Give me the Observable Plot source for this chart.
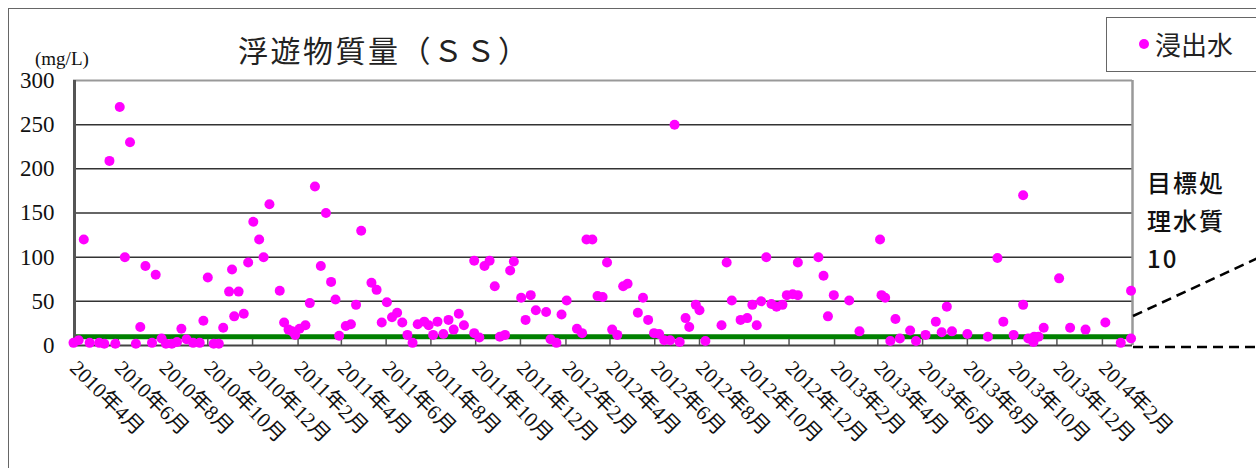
<!DOCTYPE html>
<html>
<head>
<meta charset="utf-8">
<script src="https://cdn.jsdelivr.net/npm/d3@7"></script>
<script src="https://cdn.jsdelivr.net/npm/@observablehq/plot@0.6"></script>
<style>
  html, body { margin: 0; padding: 0; background: #fff; }
  #wrap { position: relative; width: 1256px; height: 468px; overflow: hidden; background: #fff; }
  #wrap svg.plot { position: absolute; left: 0; top: 0; }
  .abs { position: absolute; white-space: nowrap; color: #111; }
  #border { position: absolute; left: 8px; top: 8px; width: 1400px; height: 600px; border-left: 1px solid #666; border-top: 1px solid #666; }
  #title { left: 238px; top: 31px; font: 400 30px "Noto Sans CJK JP", sans-serif; line-height: 36px; letter-spacing: 2.5px; color: #222; }
  #unit { left: 35px; top: 48px; font: 400 19px "Liberation Serif", serif; line-height: 22px; }
  #legend { position: absolute; left: 1106px; top: 17px; width: 200px; height: 53px; border: 1px solid #666; background: #fff; }
  #legend .dot { position: absolute; left: 32px; top: 21px; width: 10px; height: 10px; border-radius: 50%; background: #ff00ff; }
  #legend .lab { position: absolute; left: 48px; top: 8px; font: 400 26px "Noto Sans CJK JP", sans-serif; line-height: 36px; color: #222; }
  #note { left: 1147px; top: 163px; font: 500 24px "Noto Sans CJK JP", sans-serif; line-height: 38px; letter-spacing: 2px; color: #111; }
  #leader { position: absolute; left: 0; top: 0; }
</style>
</head>
<body>
<div id="wrap">
  <div id="border"></div>
</div>
<script>
// ---- data ----
const sampleDates = [
  "2010-04-01","2010-04-08","2010-04-15","2010-04-23","2010-05-06","2010-05-13","2010-05-20","2010-05-28",
  "2010-06-03","2010-06-10","2010-06-17","2010-06-25","2010-07-01","2010-07-08","2010-07-17","2010-07-22",
  "2010-07-30","2010-08-05","2010-08-13","2010-08-20","2010-08-26","2010-09-02","2010-09-11","2010-09-20",
  "2010-09-25","2010-10-01","2010-10-09","2010-10-16","2010-10-22","2010-10-30","2010-11-03","2010-11-06",
  "2010-11-12","2010-11-19","2010-11-25","2010-12-02","2010-12-10","2010-12-16","2010-12-24","2011-01-07",
  "2011-01-13","2011-01-19","2011-01-24","2011-01-28","2011-02-03","2011-02-11","2011-02-17","2011-02-24",
  "2011-03-04","2011-03-11","2011-03-18","2011-03-24","2011-03-29","2011-04-07","2011-04-14","2011-04-21",
  "2011-04-28","2011-05-12","2011-05-19","2011-05-26","2011-06-02","2011-06-09","2011-06-16","2011-06-23",
  "2011-06-30","2011-07-07","2011-07-14","2011-07-23","2011-07-29","2011-08-04","2011-08-10","2011-08-18",
  "2011-08-25","2011-09-01","2011-09-08","2011-09-15","2011-09-29","2011-09-29","2011-10-06","2011-10-13",
  "2011-10-20","2011-10-27","2011-11-03","2011-11-10","2011-11-17","2011-11-22","2011-12-02","2011-12-08",
  "2011-12-15","2011-12-22","2012-01-05","2012-01-11","2012-01-19","2012-01-26","2012-02-02","2012-02-16",
  "2012-02-23","2012-02-29","2012-03-08","2012-03-15","2012-03-22","2012-03-28","2012-04-04","2012-04-11",
  "2012-04-19","2012-04-25","2012-05-09","2012-05-16","2012-05-23","2012-05-31","2012-06-07","2012-06-14",
  "2012-06-22","2012-06-28","2012-07-05","2012-07-13","2012-07-18","2012-07-27","2012-08-01","2012-08-09",
  "2012-08-31","2012-09-07","2012-09-14","2012-09-26","2012-10-05","2012-10-12","2012-10-18","2012-10-24",
  "2012-10-31","2012-11-07","2012-11-14","2012-11-22","2012-11-28","2012-12-06","2012-12-13","2012-12-13",
  "2013-01-10","2013-01-17","2013-01-23","2013-01-31","2013-02-21","2013-03-07","2013-04-04","2013-04-06",
  "2013-04-11","2013-04-18","2013-04-25","2013-05-01","2013-05-15","2013-05-23","2013-06-05","2013-06-19",
  "2013-06-27","2013-07-04","2013-07-11","2013-08-01","2013-08-29","2013-09-11","2013-09-19","2013-10-03",
  "2013-10-16","2013-10-16","2013-10-23","2013-10-30","2013-10-31","2013-11-06","2013-11-13","2013-12-04",
  "2013-12-19","2014-01-09","2014-02-05","2014-02-26","2014-03-12","2014-03-12"
];
const ssValues = [
  3, 6, 120, 3, 3, 2, 209, 2,
  270, 100, 230, 2, 21, 90, 3, 80,
  8, 2, 2, 4, 19, 7, 3, 3,
  28, 77, 2, 2, 20, 61, 86, 33,
  61, 36, 94, 140, 120, 100, 160, 62,
  26, 18, 16, 12, 19, 23, 48, 180,
  90, 150, 72, 52, 11, 22, 24, 46,
  130, 71, 63, 26, 49, 32, 37, 26,
  12, 3, 24, 27, 23, 12, 27, 13,
  29, 18, 36, 23, 96, 14, 9, 90,
  96, 67, 10, 12, 85, 95, 54, 29,
  57, 40, 38, 7, 3, 35, 51, 19,
  14, 120, 120, 56, 55, 94, 18, 12,
  67, 70, 37, 54, 29, 14, 13, 6,
  6, 250, 4, 31, 21, 46, 40, 5,
  23, 94, 51, 29, 31, 46, 23, 50,
  100, 47, 44, 46, 57, 58, 57, 94,
  100, 79, 33, 57, 51, 16, 120, 57,
  54, 5, 30, 8, 17, 5, 12, 27,
  15, 44, 16, 13, 10, 99, 27, 12,
  170, 46, 8, 4, 10, 10, 20, 76,
  20, 18, 26, 3, 62, 8
];
const seriesName = "浸出水";
const targetValue = 10;
const targetLabel = ["目標処", "理水質", "10"];
const titleText = "浮遊物質量（ＳＳ）";
const unitText = "(mg/L)";
const yTicks = [0, 50, 100, 150, 200, 250, 300];
const xTickMonths = [
  "2010-04","2010-06","2010-08","2010-10","2010-12",
  "2011-02","2011-04","2011-06","2011-08","2011-10","2011-12",
  "2012-02","2012-04","2012-06","2012-08","2012-10","2012-12",
  "2013-02","2013-04","2013-06","2013-08","2013-10","2013-12",
  "2014-02"
];
const xDomain = ["2010-04-01", "2014-03-14"];

// ---- build ----
const data = sampleDates.map((d, i) => ({date: new Date(d + "T00:00:00Z"), value: ssValues[i]}));
const tickDates = xTickMonths.map(m => new Date(m + "-01T00:00:00Z"));
const xd = xDomain.map(d => new Date(d + "T00:00:00Z"));
const fmt = d => `${d.getUTCFullYear()}年${d.getUTCMonth() + 1}月`;
const serif = "'Liberation Serif', 'Noto Sans CJK JP', serif";

const chart = Plot.plot({
  width: 1256,
  height: 468,
  marginLeft: 73,
  marginRight: 124,
  marginTop: 80,
  marginBottom: 123,
  style: {background: "transparent", overflow: "visible", color: "#111"},
  x: {type: "utc", domain: xd, label: null},
  y: {domain: [0, 300], label: null},
  marks: [
    Plot.ruleY(yTicks.filter(v => v > 0 && v < 300), {stroke: "#333", strokeWidth: 1.5}),
    Plot.ruleY([300], {stroke: "#999", strokeWidth: 2}),
    Plot.ruleX([xd[1]], {stroke: "#999", strokeWidth: 2.5}),
    Plot.ruleY([targetValue], {stroke: "#008000", strokeWidth: 5}),
    Plot.ruleY([0], {stroke: "#444", strokeWidth: 2}),
    Plot.ruleX(tickDates, {y1: 0, y2: 7, stroke: "#555", strokeWidth: 1.5}),
    Plot.ruleX([xd[0]], {stroke: "#555", strokeWidth: 3, dx: 1}),
    Plot.axisY({ticks: yTicks, tickSize: 0, tickPadding: 19, fontSize: 23, fontFamily: serif, fill: "#111", label: null}),
    Plot.axisX({ticks: tickDates, tickFormat: fmt, tickRotate: 45, tickSize: 0, tickPadding: 19, fontSize: 21, fontFamily: serif, fill: "#111", label: null}),
    Plot.dot(data, {x: "date", y: "value", r: 5, fill: "#ff00ff", stroke: null})
  ]
});
chart.classList.add("plot");
const wrap = document.getElementById("wrap");
wrap.appendChild(chart);

// leader lines for the target annotation
const ns = "http://www.w3.org/2000/svg";
const leader = document.createElementNS(ns, "svg");
leader.setAttribute("id", "leader");
leader.setAttribute("width", 1256);
leader.setAttribute("height", 468);
leader.innerHTML =
  '<line x1="1133" y1="316" x2="1262" y2="256" stroke="#000" stroke-width="2.5" stroke-dasharray="10,6"/>' +
  '<line x1="1133" y1="347" x2="1262" y2="347" stroke="#000" stroke-width="2.5" stroke-dasharray="10,6"/>';
wrap.appendChild(leader);

function addDiv(id, cls, html) {
  const el = document.createElement("div");
  el.id = id;
  if (cls) el.className = cls;
  el.innerHTML = html;
  wrap.appendChild(el);
  return el;
}
addDiv("title", "abs", titleText);
addDiv("unit", "abs", unitText);
addDiv("note", "abs", targetLabel.join("<br>"));
addDiv("legend", "", `<div class="dot"></div><div class="lab">${seriesName}</div>`);
</script>
</body>
</html>
